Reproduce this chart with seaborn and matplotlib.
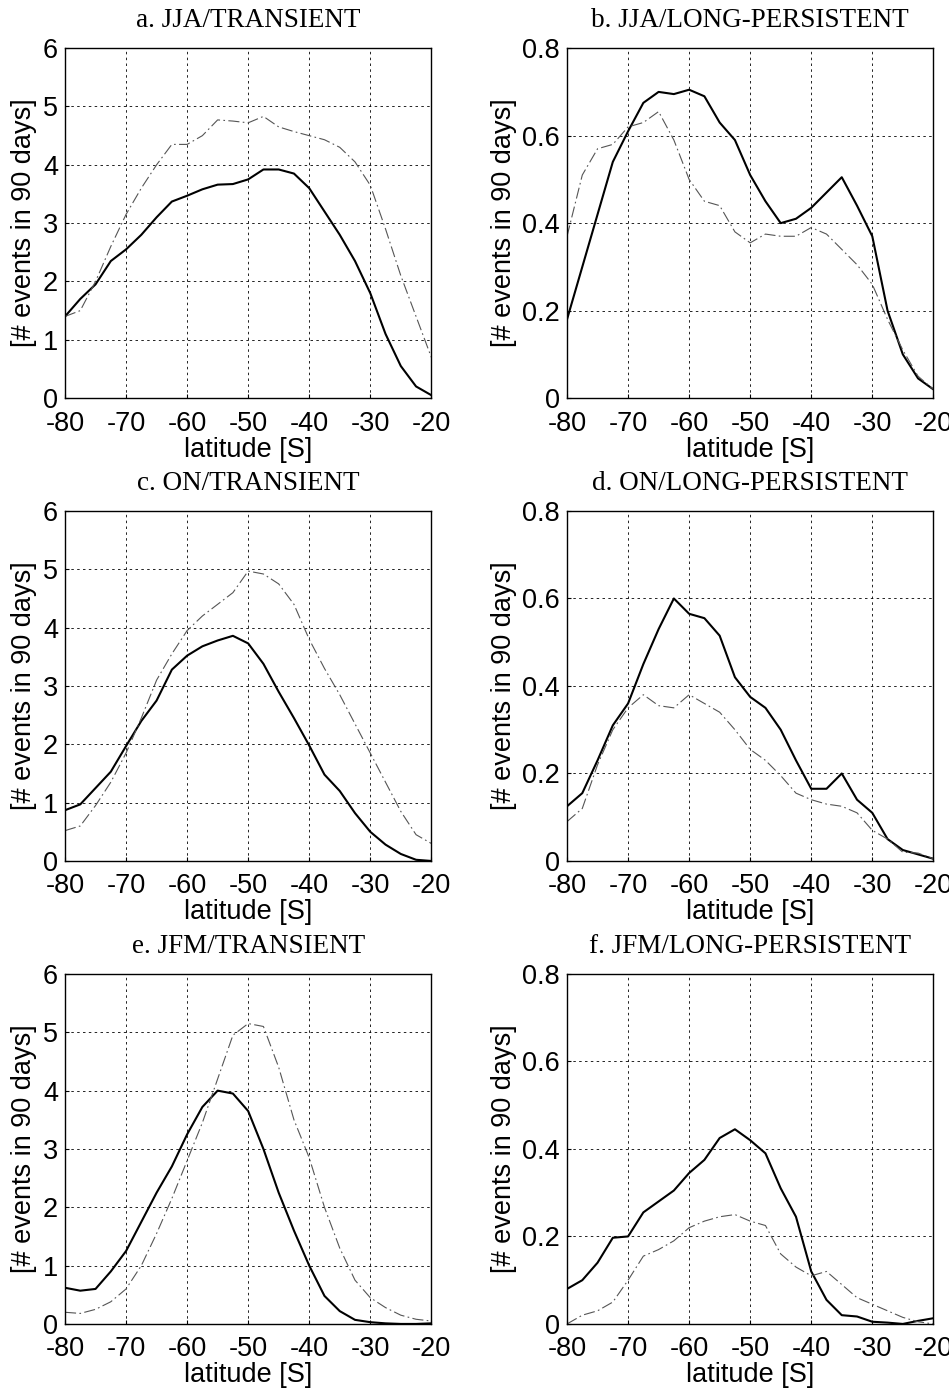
import numpy as np
import pandas as pd
import matplotlib
matplotlib.use("Agg")
import matplotlib.pyplot as plt
import seaborn as sns

# latitude grid (2.5 deg)
lat = np.arange(-80, -19.9, 2.5)

titles = ["a. JJA/TRANSIENT", "b. JJA/LONG-PERSISTENT",
          "c. ON/TRANSIENT", "d. ON/LONG-PERSISTENT",
          "e. JFM/TRANSIENT", "f. JFM/LONG-PERSISTENT"]

# solid / dash-dot curves for each panel
a_solid = [1.4, 1.7, 1.95, 2.35, 2.55, 2.8, 3.1, 3.37, 3.47, 3.58, 3.66, 3.67, 3.75,
           3.92, 3.92, 3.85, 3.6, 3.2, 2.8, 2.35, 1.8, 1.1, 0.55, 0.2, 0.05]
a_dash = [1.4, 1.5, 2.0, 2.6, 3.15, 3.6, 4.0, 4.35, 4.35, 4.5, 4.77, 4.75, 4.72,
          4.83, 4.65, 4.57, 4.5, 4.43, 4.3, 4.05, 3.65, 2.9, 2.1, 1.4, 0.7]

b_solid = [0.18, 0.3, 0.42, 0.54, 0.61, 0.675, 0.70, 0.695, 0.705, 0.69, 0.63, 0.59, 0.51,
           0.45, 0.40, 0.41, 0.435, 0.47, 0.505, 0.44, 0.37, 0.20, 0.10, 0.045, 0.02]
b_dash = [0.37, 0.51, 0.57, 0.58, 0.62, 0.63, 0.655, 0.59, 0.50, 0.45, 0.44, 0.38, 0.355,
          0.375, 0.37, 0.37, 0.39, 0.375, 0.34, 0.305, 0.26, 0.18, 0.11, 0.05, 0.02]

c_solid = [0.87, 0.97, 1.25, 1.53, 1.97, 2.4, 2.75, 3.28, 3.52, 3.68, 3.78, 3.86, 3.73,
           3.38, 2.9, 2.45, 1.98, 1.48, 1.2, 0.82, 0.5, 0.28, 0.12, 0.02, 0.0]
c_dash = [0.52, 0.6, 0.95, 1.35, 1.85, 2.45, 3.1, 3.55, 3.95, 4.2, 4.4, 4.6, 4.97,
          4.92, 4.75, 4.4, 3.8, 3.3, 2.85, 2.35, 1.85, 1.35, 0.85, 0.45, 0.3]

d_solid = [0.125, 0.155, 0.23, 0.31, 0.36, 0.45, 0.53, 0.60, 0.565, 0.555, 0.515, 0.42, 0.375,
           0.35, 0.3, 0.23, 0.165, 0.165, 0.20, 0.14, 0.11, 0.05, 0.025, 0.015, 0.005]
d_dash = [0.09, 0.12, 0.22, 0.30, 0.35, 0.38, 0.355, 0.35, 0.38, 0.36, 0.34, 0.3, 0.255,
          0.23, 0.195, 0.155, 0.14, 0.13, 0.125, 0.11, 0.07, 0.05, 0.02, 0.018, 0.005]

e_solid = [0.62, 0.57, 0.6, 0.9, 1.25, 1.75, 2.25, 2.7, 3.25, 3.72, 4.0, 3.95, 3.65,
           3.0, 2.25, 1.6, 1.0, 0.48, 0.22, 0.07, 0.03, 0.01, 0.0, 0.0, 0.01]
e_dash = [0.2, 0.18, 0.25, 0.38, 0.6, 1.0, 1.55, 2.15, 2.8, 3.45, 4.2, 4.95, 5.15,
          5.1, 4.4, 3.5, 2.85, 2.0, 1.3, 0.75, 0.45, 0.28, 0.15, 0.08, 0.05]

f_solid = [0.08, 0.10, 0.14, 0.197, 0.20, 0.255, 0.28, 0.305, 0.345, 0.375, 0.425, 0.445, 0.42,
           0.39, 0.31, 0.245, 0.12, 0.055, 0.02, 0.017, 0.005, 0.003, 0.0, 0.007, 0.013]
f_dash = [0.0, 0.02, 0.03, 0.05, 0.1, 0.155, 0.17, 0.19, 0.22, 0.235, 0.245, 0.25, 0.235,
          0.225, 0.16, 0.13, 0.11, 0.12, 0.09, 0.06, 0.045, 0.03, 0.015, 0.005, 0.0]

solids = [a_solid, b_solid, c_solid, d_solid, e_solid, f_solid]
dashes = [a_dash, b_dash, c_dash, d_dash, e_dash, f_dash]

sns.set_style("ticks")
plt.rcParams['font.family'] = ['Liberation Sans', 'DejaVu Sans']
plt.rcParams['axes.unicode_minus'] = False
plt.rcParams['text.color'] = 'black'
plt.rcParams['axes.labelcolor'] = 'black'
plt.rcParams['xtick.color'] = 'black'
plt.rcParams['ytick.color'] = 'black'

fig = plt.figure(figsize=(9.49, 13.92), dpi=100)

lefts = [0.0685, 0.5975]
bottoms = [0.714, 0.3815, 0.0489]
w, h = 0.386, 0.2514

for i in range(6):
    row, col = divmod(i, 2)
    ax = fig.add_axes([lefts[col], bottoms[row], w, h])
    df = pd.DataFrame({"lat": lat, "solid": solids[i], "dash": dashes[i]})
    sns.lineplot(data=df, x="lat", y="solid", ax=ax, color="black", lw=1.5)
    sns.lineplot(data=df, x="lat", y="dash", ax=ax, color="#555555", lw=0.8,
                 linestyle=(0, (10, 3, 1.5, 3)))
    ax.set_xlim(-80, -20)
    ax.set_xticks(np.arange(-80, -19, 10))
    if col == 0:
        ax.set_ylim(0, 6)
        ax.set_yticks(range(0, 7))
        ax.set_yticklabels([str(v) for v in range(0, 7)])
    else:
        ax.set_ylim(0, 0.8)
        ax.set_yticks([0, 0.2, 0.4, 0.6, 0.8])
        ax.set_yticklabels(["0", "0.2", "0.4", "0.6", "0.8"])
    ax.grid(True, color="black", linestyle=(0, (3, 4)), lw=0.6)
    ax.tick_params(direction="in", length=3, labelsize=19.5, colors="black")
    ax.tick_params(axis="x", pad=9)
    ax.tick_params(axis="y", pad=5)
    for s in ax.spines.values():
        s.set_linewidth(1.0)
        s.set_color("black")
    ax.set_xlabel("latitude [S]", fontsize=19.5, labelpad=0, color="black")
    ax.set_ylabel("[# events in 90 days]", fontsize=19.5, labelpad=4, color="black")
    ax.set_title(titles[i], fontsize=19.5, family="Liberation Serif", pad=15,
                 color="black")

fig.savefig("out.png", dpi=100)
